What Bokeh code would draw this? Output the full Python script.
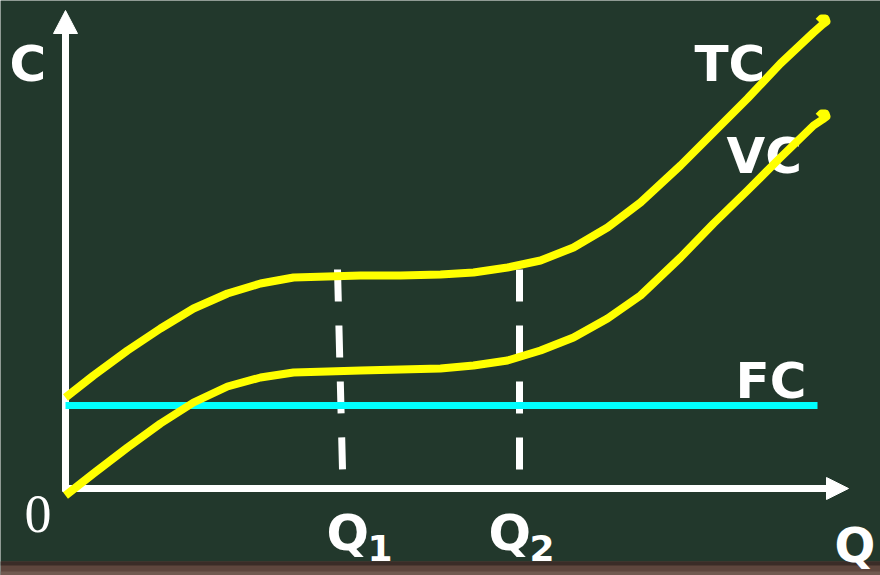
from bokeh.plotting import figure
from bokeh.models import Range1d
from bokeh.core.properties import value
from bokeh.embed import file_html
from bokeh.resources import INLINE

# ---- data (Q along the horizontal axis, C along the vertical axis; origin at axes corner)
tc_q = [0, 28, 62, 95, 128, 162, 195, 228, 262, 295, 335, 375, 408, 442, 475, 508, 542,
        575, 615, 648, 682, 715, 748, 757, 761, 760, 756, 753]
tc_c = [91, 113, 138, 160, 180, 195, 205, 211, 212, 213, 213, 214, 216, 221, 228, 241, 261,
        286, 323, 356, 390, 425, 456, 464, 467, 470, 470, 467]

vc_q = [0, 28, 62, 95, 128, 162, 195, 228, 262, 295, 335, 375, 408, 442, 475, 508, 542,
        575, 615, 648, 682, 715, 748, 757, 761, 760, 756, 753]
vc_c = [-7, 15, 41, 65, 86, 102, 111, 116, 117, 118, 119, 120, 123, 128, 138, 151, 170,
        193, 231, 265, 298, 331, 363, 369, 372, 375, 375, 372]

fc_q = [0, 752]
fc_c = [83, 83]

q_marks = ["Q1", "Q2"]
q_top_x = [272, 454]
q_bottom_x = [277, 454]
q_top_c = [219, 219]
q_bottom_c = [19, 19]

# ---- colours / styles
BG = "#22382c"
WHITE = "#ffffff"
YELLOW = "#ffff00"
CYAN = "#00ffff"
FONT = value("DejaVu Sans")

W, H = 880, 575
p = figure(width=W, height=H, output_backend="svg", toolbar_location=None,
           x_range=Range1d(-65, 815), y_range=Range1d(-87, 488),
           min_border=0, background_fill_color=BG, border_fill_color=BG,
           outline_line_color=None)
p.axis.visible = False
p.grid.visible = False

# chalk tray strip at bottom
p.quad(left=[-65], right=[815], bottom=[-90], top=[-73], fill_color="#5e463d", line_color=None)
p.quad(left=[-65], right=[815], bottom=[-77], top=[-73], fill_color="#3a2c27", line_color=None)
p.quad(left=[-65], right=[815], bottom=[-90], top=[-83], fill_color="#705a50", line_color=None)

# axes with arrows
p.segment(x0=[0], y0=[-3], x1=[0], y1=[456], line_color=WHITE, line_width=7)
p.segment(x0=[-3], y0=[0], x1=[762], y1=[0], line_color=WHITE, line_width=7)
p.patch(x=[-12, 0, 12], y=[455, 478, 455], fill_color=WHITE, line_color=WHITE, line_width=1)
p.patch(x=[761, 783, 761], y=[11, 0, -11], fill_color=WHITE, line_color=WHITE, line_width=1)

# labels (drawn under the curves)
def label(x, y, t, size, font=FONT, style="bold"):
    p.text(x=[x], y=[y + 0.39 * size], text=[t], text_color=WHITE, text_font=font,
           text_font_size=f"{size}px", text_font_style=style,
           text_align="left", text_baseline="alphabetic")

label(-56, 405, "C", 50)
label(629, 405, "TC", 50)
label(661, 313, "VC", 50)
label(670, 88, "FC", 50)
label(-41, -47, "0", 54, font=value("Liberation Serif"), style="normal")
label(261, -64, "Q", 50)
label(302, -74, "1", 36)
label(423, -64, "Q", 50)
label(464, -74, "2", 36)
label(769, -75, "Q", 48)

# dashed guide lines at Q1 and Q2
p.segment(x0=q_top_x, y0=q_top_c, x1=q_bottom_x, y1=q_bottom_c,
          line_color=WHITE, line_width=7, line_dash="32 24")

# cost curves
p.line(fc_q, fc_c, line_color=CYAN, line_width=7)
p.line(tc_q, tc_c, line_color=YELLOW, line_width=8, line_join="round")
p.line(vc_q, vc_c, line_color=YELLOW, line_width=8, line_join="round")

open("out.html", "w").write(file_html(p, INLINE))
